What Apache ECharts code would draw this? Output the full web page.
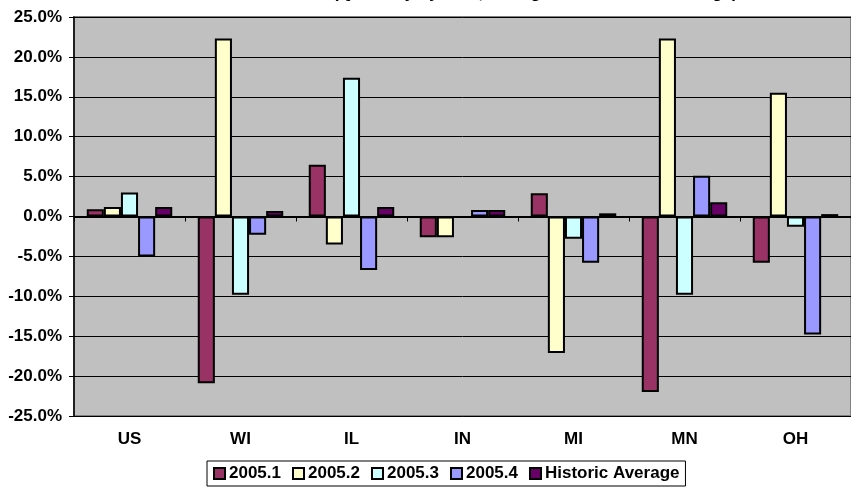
<!DOCTYPE html>
<html>
<head>
<meta charset="utf-8">
<script src="https://cdn.jsdelivr.net/npm/echarts@6/dist/echarts.min.js"></script>
<style>
  html, body { margin: 0; padding: 0; background: #ffffff; }
  #chart { width: 851px; height: 487px; }
</style>
</head>
<body>
<div id="chart"></div>
<script>
// Quarterly change by state, percent
const categories = ['US', 'WI', 'IL', 'IN', 'MI', 'MN', 'OH'];
const q2005_1 = [0.9, -20.9, 6.5, -2.6, 2.9, -22.0, -5.8];
const q2005_2 = [1.2, 22.3, -3.5, -2.6, -17.1, 22.3, 15.5];
const q2005_3 = [3.0, -9.8, 17.4, -0.1, -2.8, -9.8, -1.3];
const q2005_4 = [-5.0, -2.3, -6.7, 0.8, -5.8, 5.1, -14.8];
const historicAvg = [1.2, 0.7, 1.2, 0.8, 0.4, 1.8, 0.3];

const seriesNames = ['2005.1', '2005.2', '2005.3', '2005.4', 'Historic Average'];
const seriesValues = [q2005_1, q2005_2, q2005_3, q2005_4, historicAvg];
const seriesColors = ['#993366', '#FFFFCC', '#CCFFFF', '#9999FF', '#660066'];

const yMin = -25, yMax = 25, yStep = 5;

const FONT = 'Liberation Sans, Arial, sans-serif';

const chart = echarts.init(document.getElementById('chart'), null, { renderer: 'canvas' });

const series = seriesNames.map((name, i) => ({
  name: name,
  type: 'bar',
  xAxisIndex: 0,
  data: seriesValues[i],
  barGap: '0%',
  barCategoryGap: '23%',
  itemStyle: { color: seriesColors[i], borderColor: '#000000', borderWidth: 2 },
  emphasis: { disabled: true },
  animation: false
}));

chart.setOption({
  animation: false,
  backgroundColor: '#ffffff',
  title: {
    text: '(Quarterly by Year, Change from Historic Average)',
    left: 333,
    top: -15,
    padding: 0,
    textStyle: { fontFamily: FONT, fontSize: 17, fontWeight: 'bold', color: '#000000' }
  },
  grid: {
    left: 74,
    top: 17,
    width: 791,
    height: 399,
    show: true,
    backgroundColor: '#C0C0C0',
    borderColor: '#808080',
    borderWidth: 2
  },
  legend: {
    data: seriesNames,
    left: 207,
    top: 461,
    orient: 'horizontal',
    icon: 'rect',
    itemWidth: 11,
    itemHeight: 11,
    itemGap: 11,
    padding: [4, 6, 4, 6],
    backgroundColor: '#ffffff',
    borderColor: '#000000',
    borderWidth: 1,
    borderRadius: 0,
    selectedMode: false,
    textStyle: { fontFamily: FONT, fontSize: 17, fontWeight: 'bold', color: '#000000', padding: [0, 0, 0, -1] }
  },
  xAxis: [
    {
      type: 'category',
      data: categories,
      position: 'bottom',
      axisLine: { show: true, onZero: true, lineStyle: { color: '#000000', width: 2 } },
      axisTick: { show: true, length: 5, lineStyle: { color: '#000000', width: 1 } },
      axisLabel: { show: false },
      splitLine: { show: false }
    },
    {
      type: 'category',
      data: categories,
      position: 'bottom',
      axisLine: { show: false, onZero: false },
      axisTick: { show: false },
      axisLabel: { show: true, margin: 15, fontFamily: FONT, fontSize: 17, fontWeight: 'bold', color: '#000000' },
      splitLine: { show: false }
    }
  ],
  yAxis: {
    type: 'value',
    min: yMin,
    max: yMax,
    interval: yStep,
    axisLine: { show: true, lineStyle: { color: '#000000', width: 1.5 } },
    axisTick: { show: true, length: 5, lineStyle: { color: '#000000', width: 1 } },
    axisLabel: {
      margin: 12,
      fontFamily: FONT,
      fontSize: 17,
      fontWeight: 'bold',
      color: '#000000',
      formatter: v => v.toFixed(1) + '%'
    },
    splitLine: { show: true, lineStyle: { color: '#000000', width: 1 } }
  },
  series: series
});
</script>
</body>
</html>
